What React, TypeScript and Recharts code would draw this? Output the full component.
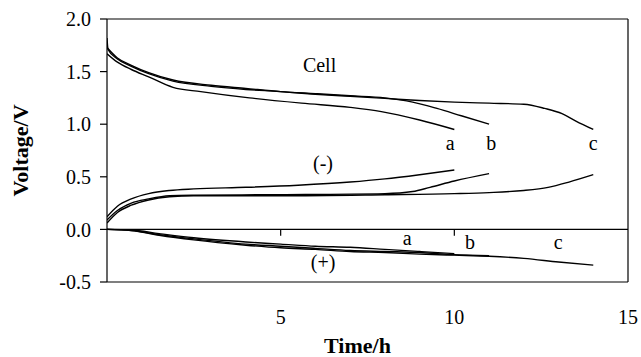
import { LineChart, Line, XAxis, YAxis, ReferenceLine, ReferenceDot, Label } from 'recharts'

// Time (h) vs voltage (V) for runs a, b, c
const cellA = [
  { t: 0, v: 1.67 }, { t: 0.3, v: 1.59 }, { t: 0.7, v: 1.52 }, { t: 1.2, v: 1.45 },
  { t: 1.9, v: 1.35 }, { t: 2.7, v: 1.31 }, { t: 4.1, v: 1.25 }, { t: 5.6, v: 1.2 },
  { t: 7.0, v: 1.16 }, { t: 7.9, v: 1.12 }, { t: 9.0, v: 1.04 }, { t: 10.0, v: 0.95 },
]
const cellB = [
  { t: 0, v: 1.73 }, { t: 0.3, v: 1.63 }, { t: 0.7, v: 1.56 }, { t: 1.2, v: 1.49 },
  { t: 1.9, v: 1.42 }, { t: 3.0, v: 1.37 }, { t: 4.0, v: 1.34 }, { t: 5.0, v: 1.31 },
  { t: 6.0, v: 1.29 }, { t: 7.0, v: 1.27 }, { t: 8.0, v: 1.25 }, { t: 8.8, v: 1.21 },
  { t: 9.5, v: 1.15 }, { t: 10.2, v: 1.08 }, { t: 11.0, v: 1.0 },
]
const cellC = [
  { t: 0, v: 1.82 }, { t: 0.03, v: 1.71 }, { t: 0.3, v: 1.62 }, { t: 0.7, v: 1.55 },
  { t: 1.2, v: 1.48 }, { t: 1.9, v: 1.41 }, { t: 3.0, v: 1.36 }, { t: 4.0, v: 1.33 },
  { t: 5.0, v: 1.31 }, { t: 6.0, v: 1.285 }, { t: 7.0, v: 1.265 }, { t: 8.0, v: 1.245 },
  { t: 9.0, v: 1.225 }, { t: 10.0, v: 1.21 }, { t: 11.0, v: 1.2 }, { t: 12.0, v: 1.19 },
  { t: 12.6, v: 1.15 }, { t: 13.1, v: 1.1 }, { t: 13.5, v: 1.03 }, { t: 14.0, v: 0.95 },
]
const negA = [
  { t: 0, v: 0.12 }, { t: 0.3, v: 0.22 }, { t: 0.7, v: 0.29 }, { t: 1.2, v: 0.34 },
  { t: 1.8, v: 0.37 }, { t: 2.5, v: 0.385 }, { t: 4.0, v: 0.4 }, { t: 5.5, v: 0.42 },
  { t: 7.0, v: 0.45 }, { t: 8.0, v: 0.48 }, { t: 9.0, v: 0.52 }, { t: 10.0, v: 0.565 },
]
const negB = [
  { t: 0, v: 0.09 }, { t: 0.3, v: 0.18 }, { t: 0.7, v: 0.25 }, { t: 1.2, v: 0.29 },
  { t: 1.8, v: 0.32 }, { t: 2.5, v: 0.325 }, { t: 5.0, v: 0.33 }, { t: 8.0, v: 0.34 },
  { t: 8.8, v: 0.36 }, { t: 9.3, v: 0.4 }, { t: 10.0, v: 0.46 }, { t: 11.0, v: 0.53 },
]
const negC = [
  { t: 0, v: 0.06 }, { t: 0.3, v: 0.16 }, { t: 0.7, v: 0.23 }, { t: 1.2, v: 0.28 },
  { t: 1.8, v: 0.31 }, { t: 2.5, v: 0.32 }, { t: 5.0, v: 0.32 }, { t: 8.0, v: 0.33 },
  { t: 10.0, v: 0.34 }, { t: 11.0, v: 0.35 }, { t: 12.0, v: 0.37 }, { t: 12.7, v: 0.4 },
  { t: 13.3, v: 0.45 }, { t: 14.0, v: 0.52 },
]
const posA = [
  { t: 0, v: 0 }, { t: 0.7, v: -0.005 }, { t: 1.5, v: -0.04 }, { t: 2.5, v: -0.08 },
  { t: 4.0, v: -0.12 }, { t: 5.0, v: -0.14 }, { t: 6.0, v: -0.16 }, { t: 7.0, v: -0.17 },
  { t: 8.0, v: -0.19 }, { t: 9.0, v: -0.21 }, { t: 10.0, v: -0.23 },
]
const posB = [
  { t: 0, v: 0 }, { t: 0.7, v: -0.01 }, { t: 1.5, v: -0.05 }, { t: 2.5, v: -0.09 },
  { t: 4.0, v: -0.14 }, { t: 5.0, v: -0.16 }, { t: 6.0, v: -0.18 }, { t: 7.0, v: -0.2 },
  { t: 8.0, v: -0.21 }, { t: 9.0, v: -0.22 }, { t: 10.0, v: -0.24 }, { t: 11.0, v: -0.25 },
]
const posC = [
  { t: 0, v: 0 }, { t: 0.7, v: -0.01 }, { t: 1.5, v: -0.055 }, { t: 2.5, v: -0.1 },
  { t: 4.0, v: -0.15 }, { t: 5.0, v: -0.175 }, { t: 6.0, v: -0.19 }, { t: 7.0, v: -0.21 },
  { t: 8.0, v: -0.22 }, { t: 9.0, v: -0.235 }, { t: 10.0, v: -0.245 }, { t: 11.0, v: -0.255 },
  { t: 12.0, v: -0.275 }, { t: 13.0, v: -0.31 }, { t: 14.0, v: -0.34 },
]

const series = [cellA, cellB, cellC, negA, negB, negC, posA, posB, posC]

const xTicks = [5, 10, 15]
const yTicks = [-0.5, 0, 0.5, 1.0, 1.5, 2.0]
const zeroTicks = [5, 10]

// annotation text and where it sits in data units
const notes = [
  { t: 6.12, v: 1.56, text: 'Cell' },
  { t: 6.22, v: 0.63, text: '(-)' },
  { t: 6.22, v: -0.31, text: '(+)' },
  { t: 9.88, v: 0.82, text: 'a' },
  { t: 11.06, v: 0.82, text: 'b' },
  { t: 14.0, v: 0.82, text: 'c' },
  { t: 8.64, v: -0.08, text: 'a' },
  { t: 10.45, v: -0.12, text: 'b' },
  { t: 12.99, v: -0.12, text: 'c' },
]

const font = 'Liberation Serif, Times New Roman, serif'
const txt = { fill: '#000', fontSize: 20, fontFamily: font, style: { fontFamily: font } }

export default function App() {
  return (
    <div style={{ width: 641, height: 357, fontFamily: font }}>
      <style>{`body{margin:0} .recharts-text{font-family:'Liberation Serif',serif}`}</style>
      <LineChart
        width={641}
        height={357}
        margin={{ top: 19, right: 13, left: 0, bottom: 0 }}
        style={{ fontFamily: font }}
      >
        <XAxis
          type="number"
          dataKey="t"
          domain={[0, 15]}
          ticks={xTicks}
          allowDataOverflow
          height={75}
          tickLine={false}
          tickSize={0}
          tickMargin={28}
          axisLine={{ stroke: '#000', strokeWidth: 1.2 }}
          tick={txt}
        >
          <Label
            content={({ viewBox }: any) => (
              <text
                x={viewBox.x + viewBox.width / 2 - 10}
                y={viewBox.y + 63}
                textAnchor="middle"
                dominantBaseline="central"
                fontFamily={font}
                fontWeight="bold"
                fontSize={22}
                fill="#000"
              >
                Time/h
              </text>
            )}
          />
        </XAxis>
        <YAxis
          type="number"
          domain={[-0.5, 2]}
          ticks={yTicks}
          width={107}
          tickSize={7}
          tickMargin={9}
          tickFormatter={(v: number) => v.toFixed(1)}
          tickLine={{ stroke: '#000', strokeWidth: 1.2 }}
          axisLine={{ stroke: '#000', strokeWidth: 1.2 }}
          tick={txt}
        >
          <Label
            content={({ viewBox }: any) => {
              const cx = 20
              const cy = viewBox.y + viewBox.height / 2
              return (
                <text
                  x={cx}
                  y={cy}
                  transform={`rotate(-90 ${cx} ${cy})`}
                  textAnchor="middle"
                  dominantBaseline="central"
                  fontFamily={font}
                  fontWeight="bold"
                  fontSize={22}
                  fill="#000"
                >
                  Voltage/V
                </text>
              )
            }}
          />
        </YAxis>
        <ReferenceLine y={2} stroke="#000" strokeWidth={1.2} />
        <ReferenceLine x={15} stroke="#000" strokeWidth={1.2} />
        <ReferenceLine y={0} stroke="#000" strokeWidth={1.2} />
        {zeroTicks.map((t) => (
          <ReferenceLine
            key={t}
            segment={[{ x: t, y: 0 }, { x: t, y: -0.06 }]}
            stroke="#000"
            strokeWidth={1.2}
          />
        ))}
        {series.map((d, i) => (
          <Line
            key={i}
            data={d}
            dataKey="v"
            type="monotone"
            stroke="#000"
            strokeWidth={1.4}
            dot={false}
            isAnimationActive={false}
          />
        ))}
        {notes.map((n, i) => (
          <ReferenceDot
            key={i}
            x={n.t}
            y={n.v}
            r={1}
            fill="none"
            stroke="none"
            label={{ value: n.text, position: 'center', ...txt }}
          />
        ))}
      </LineChart>
    </div>
  )
}
